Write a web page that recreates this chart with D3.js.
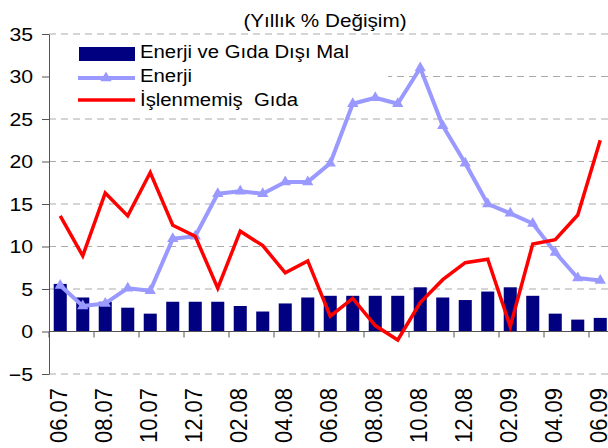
<!DOCTYPE html>
<html lang="tr">
<head>
<meta charset="utf-8">
<title>Yıllık % Değişim</title>
<script src="https://cdn.jsdelivr.net/npm/d3@7/dist/d3.min.js"></script>
<style>
  body { margin: 0; background: #fff; }
  text { font-family: "Liberation Sans", Arial, sans-serif; fill: #000; }
</style>
</head>
<body>
<script>
// months on the x axis (every other one is labelled)
var months = ["06.07","07.07","08.07","09.07","10.07","11.07","12.07","01.08","02.08","03.08",
              "04.08","05.08","06.08","07.08","08.08","09.08","10.08","11.08","12.08","01.09",
              "02.09","03.09","04.09","05.09","06.09"];
// Enerji ve Gıda Dışı Mal (bars)
var coreGoods = [5.6,4.0,3.5,2.8,2.1,3.5,3.5,3.5,3.0,2.35,3.3,4.0,4.2,4.2,4.2,4.2,5.2,4.0,3.7,4.7,5.2,4.2,2.1,1.4,1.6];
// Enerji (line with triangles)
var energy = [5.4,3.0,3.3,5.1,4.8,10.9,11.2,16.2,16.5,16.2,17.6,17.6,19.8,26.8,27.5,26.8,31.0,24.2,19.8,15.0,13.9,12.7,9.3,6.3,6.0];
// İşlenmemiş Gıda (red line)
var food = [13.6,8.9,16.3,13.6,18.7,12.5,11.2,5.1,11.8,10.1,6.9,8.3,1.8,3.9,0.7,-1.0,3.4,6.1,8.1,8.5,0.6,10.3,10.8,13.7,22.5];
var yTicks = [-5,0,5,10,15,20,25,30,35];
var legendNames = ["Enerji ve Gıda Dışı Mal", "Enerji", "İşlenmemiş  Gıda"];

var W = 608, H = 448;
var plotLeft = 49, plotTop = 34, plotBottom = 374;
var stretch = 1.18; // the original text is a bit wider than Arial

var svg = d3.select("body").append("svg").attr("width", W).attr("height", H);

var x = d3.scaleBand().domain(months)
          .range([plotLeft, plotLeft + months.length * 22.5])
          .paddingInner(0.42).paddingOuter(0.21);
var y = d3.scaleLinear().domain([-5, 35]).range([plotBottom, plotTop]);
var half = x.bandwidth() / 2;
var gap = (x.step() - x.bandwidth()) / 2;

// dashed gridlines
svg.append("g").selectAll("line")
   .data(yTicks.filter(function(d){ return d != 0; }))
   .enter().append("line")
   .attr("x1", plotLeft).attr("x2", W)
   .attr("y1", function(d){ return y(d); }).attr("y2", function(d){ return y(d); })
   .attr("stroke", "#ababab").attr("stroke-width", 1)
   .attr("stroke-dasharray", "7,5");

// y axis
var yAxis = d3.axisLeft(y).tickValues(yTicks).tickSize(7).tickSizeOuter(0).tickFormat(d3.format("d"));
var gy = svg.append("g").attr("transform", "translate(" + plotLeft + ",0)").call(yAxis);
gy.select(".domain").attr("stroke", "#555");
gy.selectAll(".tick line").attr("stroke", "#555");
gy.selectAll(".tick text")
  .attr("x", null).attr("dy", null)
  .attr("transform", "translate(-16,6) scale(" + stretch + ",1)")
  .style("font-size", "18px").attr("text-anchor", "end").attr("fill", "#000");

// legend box hides the gridline behind it
svg.append("rect").attr("x", plotLeft + 1).attr("y", 38).attr("width", 338).attr("height", 73).attr("fill", "#fff");

// bars
svg.append("g").selectAll("rect")
   .data(coreGoods).enter().append("rect")
   .attr("x", function(d, i){ return x(months[i]); })
   .attr("y", function(d){ return y(Math.max(0, d)); })
   .attr("width", x.bandwidth())
   .attr("height", function(d){ return Math.abs(y(d) - y(0)); })
   .attr("fill", "#000080");

// x axis at zero
svg.append("line").attr("x1", plotLeft).attr("x2", W).attr("y1", y(0)).attr("y2", y(0))
   .attr("stroke", "#555").attr("stroke-width", 1);
svg.append("g").selectAll("line")
   .data(months.filter(function(d, i){ return i % 2 == 0; }))
   .enter().append("line")
   .attr("x1", function(d){ return x(d) - gap; }).attr("x2", function(d){ return x(d) - gap; })
   .attr("y1", y(0)).attr("y2", y(0) + 6)
   .attr("stroke", "#555");

// x labels, rotated
svg.append("g").selectAll("text")
   .data(months.filter(function(d, i){ return i % 2 == 0; }))
   .enter().append("text")
   .attr("transform", function(d){ return "translate(" + (x(d) + half + 7) + ",388) scale(1.12,1) rotate(-90)"; })
   .attr("text-anchor", "end")
   .style("font-size", "22px")
   .text(function(d){ return d; });

// lines
var line = function(data){
  return d3.line()
    .x(function(d, i){ return x(months[i]) + half; })
    .y(function(d){ return y(d); })(data);
};
svg.append("path").attr("d", line(energy)).attr("fill", "none")
   .attr("stroke", "#9999ff").attr("stroke-width", 4).attr("stroke-linejoin", "round");
var tri = d3.symbol().type(d3.symbolTriangle).size(55);
svg.append("g").selectAll("path")
   .data(energy).enter().append("path")
   .attr("d", tri)
   .attr("transform", function(d, i){ return "translate(" + (x(months[i]) + half) + "," + y(d) + ")"; })
   .attr("fill", "#9999ff");
svg.append("path").attr("d", line(food)).attr("fill", "none")
   .attr("stroke", "#ff0000").attr("stroke-width", 3.5).attr("stroke-linejoin", "miter");

// legend
var lg = svg.append("g");
lg.append("rect").attr("x", 79).attr("y", 47).attr("width", 56).attr("height", 14).attr("fill", "#000080");
lg.append("line").attr("x1", 78).attr("x2", 135).attr("y1", 78).attr("y2", 78)
  .attr("stroke", "#9999ff").attr("stroke-width", 4);
lg.append("path").attr("d", tri).attr("transform", "translate(106,78)").attr("fill", "#9999ff");
lg.append("line").attr("x1", 78).attr("x2", 135).attr("y1", 100).attr("y2", 100)
  .attr("stroke", "#ff0000").attr("stroke-width", 3.5);
lg.selectAll("text.lbl")
  .data(legendNames).enter().append("text")
  .attr("class", "lbl")
  .attr("transform", function(d, i){ return "translate(140," + (58 + i * 24) + ") scale(1.13,1)"; })
  .style("font-size", "18px").style("white-space", "pre")
  .text(function(d){ return d; });

// title
svg.append("text")
   .attr("transform", "translate(325,27) scale(1.15,1)")
   .attr("text-anchor", "middle")
   .style("font-size", "18px")
   .text("(Yıllık % Değişim)");
</script>
</body>
</html>
